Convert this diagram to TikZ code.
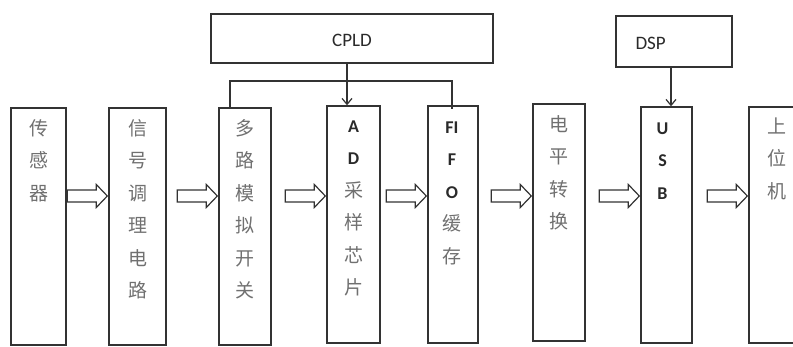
\documentclass[tikz,border=0pt]{standalone}
\usepackage{fontspec}
\setmainfont{Carlito}
\newfontfamily\cjk{Noto Sans CJK SC}
\usetikzlibrary{calc,arrows.meta}
\definecolor{linec}{HTML}{333333}
\definecolor{cjkc}{HTML}{707070}
\definecolor{latc}{HTML}{2A2A2A}
\tikzset{
  blk/.style={draw=linec, line width=1.4pt, inner sep=0pt},
  col/.style={anchor=north, align=center, inner sep=0pt, font=\fontsize{19}{32.5}\selectfont},
  hollow/.style={draw=linec, line width=1.2pt, fill=white, line join=miter},
  conn/.style={draw=linec, line width=1.2pt},
}
\newcommand\cj[1]{{\color{cjkc}\cjk #1}}
\newcommand\lt[1]{{\color{latc}\bfseries\fontsize{18}{32.5}\selectfont #1}}
\newcommand\harrow[1]{%
  \draw[hollow] ($(#1.west |- ay)+(-41,-6)$) -- ++(29,0) -- ++(0,-5.5) -- ++(11,11.5)
     -- ++(-11,11.5) -- ++(0,-5.5) -- ++(-29,0) -- cycle;}
\begin{document}
\begin{tikzpicture}[x=1pt,y=-1pt]
\useasboundingbox (0,0) rectangle (793,347);
\clip (0,0) rectangle (793,347);
\fill[white] (0,0) rectangle (793,347);
\coordinate (ay) at (0,196);
% blocks
\node[blk, minimum width=55, minimum height=237] (s1) at (38.5,226.5) {};
\node[blk, minimum width=57, minimum height=237] (s2) at (137.5,226.5) {};
\node[blk, minimum width=52, minimum height=237] (s3) at (245,226.5) {};
\node[blk, minimum width=53, minimum height=237] (s4) at (353.5,224.5) {};
\node[blk, minimum width=50, minimum height=237] (s5) at (453,224.5) {};
\node[blk, minimum width=52, minimum height=237] (s6) at (559,222.5) {};
\node[blk, minimum width=51, minimum height=236] (s7) at (666.5,225) {};
\node[blk, minimum width=60, minimum height=236] (s8) at (779,225) {};
% top controllers
\node[blk, minimum width=282, minimum height=49] (cpld) at (352,38.5) {};
\node[font=\fontsize{19}{20}\selectfont, text=latc] (cpldt) at (352,40) {CPLD};
\node[blk, minimum width=116, minimum height=51] (dsp) at (674,41.5) {};
\node[font=\fontsize{19}{20}\selectfont, text=latc, anchor=west] (dspt) at (632,43) {DSP};
% texts
\node[col] (t1) at ($(s1.north)+(0,12)$) {\cj{传}\\\cj{感}\\\cj{器}};
\node[col] (t2) at ($(s2.north)+(0,12)$) {\cj{信}\\\cj{号}\\\cj{调}\\\cj{理}\\\cj{电}\\\cj{路}};
\node[col] (t3) at ($(s3.north)+(0,12)$) {\cj{多}\\\cj{路}\\\cj{模}\\\cj{拟}\\\cj{开}\\\cj{关}};
\node[col] (t4) at ($(s4.north)+(0,15)$) {\lt{A}\\\lt{D}\\\cj{采}\\\cj{样}\\\cj{芯}\\\cj{片}};
\node[col] (t5) at ($(s5.north)+(-1,16)$) {\lt{FI}\\\lt{F}\\\lt{O}\\\cj{缓}\\\cj{存}};
\node[col] (t6) at ($(s6.north)+(0,12)$) {\cj{电}\\\cj{平}\\\cj{转}\\\cj{换}};
\node[col] (t7) at ($(s7.north)+(-4,16)$) {\lt{U}\\\lt{S}\\\lt{B}};
\node[col] (t8) at ($(s8.north)+(-2,11)$) {\cj{上}\\\cj{位}\\\cj{机}};
% hollow arrows
\harrow{s2}
\harrow{s3}
\harrow{s4}
\harrow{s5}
\harrow{s6}
\harrow{s7}
\harrow{s8}
% CPLD connections
\coordinate (bl) at (230,81);
\coordinate (br) at (452,81);
\draw[conn] (s3.north -| bl) -- (bl) -- (br) -- ($(s5.north -| br)+(0,4)$);
\draw[conn, -{Straight Barb[length=6pt,width=10pt]}] (cpld.south -| 347,0) -- (s4.north -| 347,0);
\draw[conn, -{Straight Barb[length=6pt,width=10pt]}] (dsp.south -| 671,0) -- (s7.north -| 671,0);
\end{tikzpicture}
\end{document}
